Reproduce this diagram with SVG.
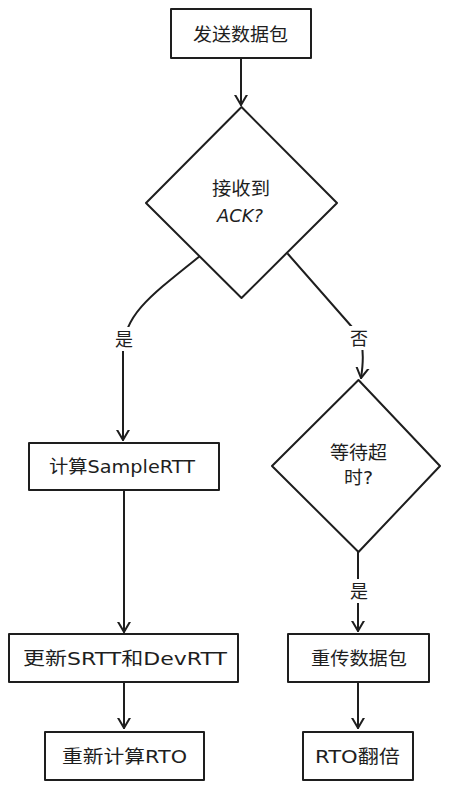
<svg xmlns="http://www.w3.org/2000/svg" width="454" height="789" viewBox="0 0 454 789">
<style>
.n{fill:#fff;stroke:#1e1e1e;stroke-width:2;stroke-linejoin:round}
.c{fill:none;stroke:#1e1e1e;stroke-width:2;stroke-linecap:round}
.t{font-family:"DejaVu Sans","Noto Sans CJK SC",sans-serif;font-size:18px;fill:#1e1e1e;text-anchor:middle;dominant-baseline:central}
.lb{fill:#fff}
</style>
<defs>
<marker id="ah" viewBox="0 0 20 20" refX="10" refY="10" markerWidth="20" markerHeight="20" markerUnits="userSpaceOnUse" orient="auto">
<path d="M-2,3 L10,10 L-2,17" fill="none" stroke="#1e1e1e" stroke-width="2" stroke-linecap="round" stroke-linejoin="round"/>
</marker>
</defs>
<rect width="454" height="789" fill="#fff"/>
<g id="connectors">
<path class="c" d="M241,58 L241,105" marker-end="url(#ah)"/>
<path class="c" d="M200,256 C150,296 124,315 123,350 L123,440" marker-end="url(#ah)"/>
<path class="c" d="M288,254 L352,327 C360,336 366,345 361,378" marker-end="url(#ah)"/>
<path class="c" d="M358,552 L358,631" marker-end="url(#ah)"/>
<path class="c" d="M124,490 L124,632" marker-end="url(#ah)"/>
<path class="c" d="M124,682 L124,728" marker-end="url(#ah)"/>
<path class="c" d="M358,682 L358,728" marker-end="url(#ah)"/>
<rect class="lb" x="113" y="327" width="22" height="24"/>
<text class="t" x="124" y="339">是</text>
<rect class="lb" x="347" y="326" width="24" height="24"/>
<text class="t" x="359" y="338">否</text>
<rect class="lb" x="347" y="579" width="24" height="24"/>
<text class="t" x="359" y="591">是</text>
</g>
<g id="send">
<rect class="n" x="171" y="9" width="140" height="49"/>
<text class="t" x="240.5" y="34" textLength="95" lengthAdjust="spacingAndGlyphs">发送数据包</text>
</g>
<g id="ack">
<polygon class="n" points="241.5,107 337,203 241.5,298 146,203"/>
<text class="t" x="241" y="188" textLength="58" lengthAdjust="spacingAndGlyphs">接收到</text>
<text class="t" x="240" y="215" font-style="italic" textLength="46" lengthAdjust="spacingAndGlyphs">ACK?</text>
</g>
<g id="sample">
<rect class="n" x="29" y="443" width="190" height="47"/>
<text class="t" x="122" y="466" textLength="146" lengthAdjust="spacingAndGlyphs">计算SampleRTT</text>
</g>
<g id="timeout">
<polygon class="n" points="358.5,380 440,466 358.5,552 272,466"/>
<text class="t" x="358.5" y="452" textLength="57" lengthAdjust="spacingAndGlyphs">等待超</text>
<text class="t" x="358.5" y="477" textLength="29" lengthAdjust="spacingAndGlyphs">时?</text>
</g>
<g id="update">
<rect class="n" x="9" y="634" width="229" height="48"/>
<text class="t" x="125" y="658" textLength="204" lengthAdjust="spacingAndGlyphs">更新SRTT和DevRTT</text>
</g>
<g id="resend">
<rect class="n" x="288" y="634" width="141" height="48"/>
<text class="t" x="359" y="658" textLength="96" lengthAdjust="spacingAndGlyphs">重传数据包</text>
</g>
<g id="rto">
<rect class="n" x="45" y="732" width="159" height="48"/>
<text class="t" x="124.5" y="756" textLength="125" lengthAdjust="spacingAndGlyphs">重新计算RTO</text>
</g>
<g id="double">
<rect class="n" x="303" y="732" width="110" height="48"/>
<text class="t" x="357.5" y="756" textLength="85" lengthAdjust="spacingAndGlyphs">RTO翻倍</text>
</g>
</svg>
